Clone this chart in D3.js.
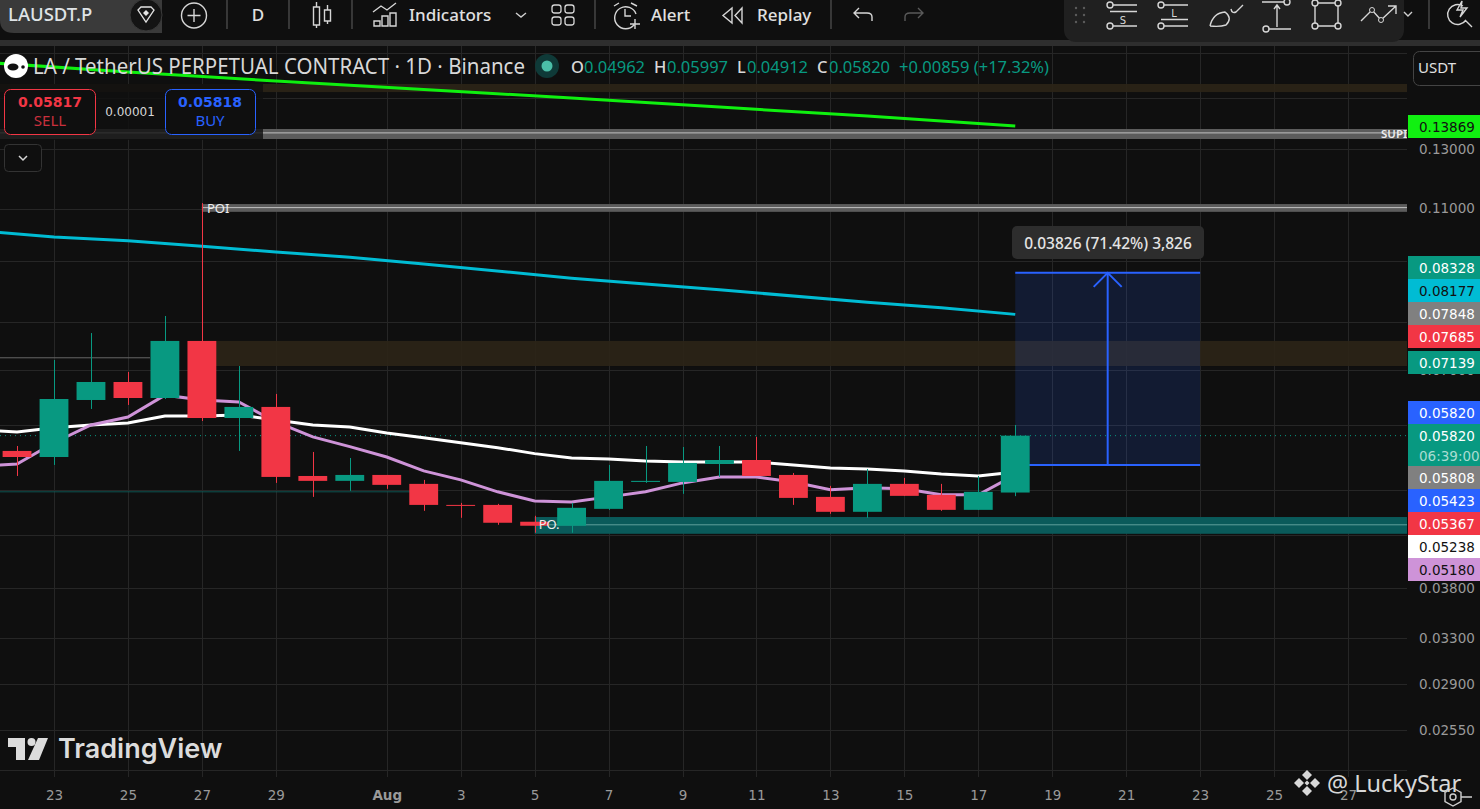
<!DOCTYPE html>
<html>
<head>
<meta charset="utf-8">
<title>LAUSDT.P</title>
<script src="https://cdnjs.cloudflare.com/ajax/libs/d3/7.8.5/d3.min.js"></script>
<style>
  html, body { margin: 0; padding: 0; background: #0f0f0f; overflow: hidden; }
  svg { display: block; }
</style>
</head>
<body>
<script>
// candles, Jul 22 to Aug 18
var candleStart = "2025-07-22";
var opens  = [.05576,.05482,.06432,.06765,.06468,.0759,.06115,.06308,.05198,.05127,.05213,.05084,.04793,.04793,.04572,.04521,.0474,.05112,.05112,.05376,.05436,.05213,.04902,.04701,.05084,.0493,.04727,.04962];
var highs  = [.05654,.07196,.0776,.06958,.0814,.1117,.07075,.06542,.0556,.05467,.05213,.05141,.0482,.04807,.04649,.0482,.05361,.05654,.05638,.05654,.058,.05242,.05056,.05301,.0517,.05084,.05198,.05997];
var lows   = [.05198,.05361,.06272,.06343,.0645,.06064,.05576,.05098,.04902,.04986,.05014,.04714,.04623,.04533,.04433,.04433,.04727,.05098,.04944,.05184,.05198,.04793,.04675,.04623,.04916,.04714,.04727,.04912];
var closes = [.05482,.0645,.06765,.06468,.0759,.06115,.06308,.05184,.05127,.05213,.0507,.04793,.0478,.04559,.04521,.04754,.05127,.05127,.05391,.05436,.05198,.04888,.04701,.05084,.04916,.04727,.04972,.0582];

// moving averages, one value per day from Jul 21
var maStart = "2025-07-21";
var whiteMa  = [.05914,.05881,.05949,.05997,.06031,.0615,.0615,.06167,.06082,.05997,.05963,.05865,.05787,.05706,.05627,.05534,.05467,.05451,.05421,.05406,.05406,.05406,.05361,.05317,.05301,.05272,.05228,.05198,.05257];
var purpleMa = [.05346,.05376,.05706,.05997,.06133,.0652,.06432,.06396,.06047,.058,.05643,.05482,.05272,.05141,.04972,.04846,.04833,.04902,.04972,.05098,.05184,.05184,.05112,.05,.05028,.05014,.0493,.0493,.05213];

// slow averages, read at a few dates
var cyanDates = ["2025-07-21","2025-07-23","2025-07-25","2025-07-27","2025-07-29","2025-07-31","2025-08-02","2025-08-06","2025-08-10","2025-08-14","2025-08-16","2025-08-18"];
var cyanMa    = [.1033,.1016,.1005,.099,.0974,.096,.0942,.0905,.0876,.0846,.0833,.08177];
var limeDates = ["2025-07-21","2025-07-25","2025-07-29","2025-08-02","2025-08-06","2025-08-10","2025-08-14","2025-08-18"];
var limeMa    = [.1659,.1613,.1573,.1536,.15,.1462,.1426,.13869];

// price zones
var bandStarts = ["2025-07-27","2025-07-10"];
var bandHighs  = [.1114,.1375];
var bandLows   = [.109,.1337];
var bandMids   = [.1103,.136];
var tanStarts  = ["2025-07-27","2025-07-10"];
var tanHighs   = [.0759,.156];
var tanLows    = [.07075,.1525];
var tealStart = "2025-08-05", tealHigh = .04633, tealLow = .0442, tealMid = .04533;
var thinGrey = .0724, thinTeal = .04972, lastPrice = .0582;

// long position tool
var toolStart = "2025-08-18", toolEnd = "2025-08-23", toolMid = "2025-08-20T12:00:00";
var toolLow = .0536, toolHigh = .09186;
var toolText = "0.03826 (71.42%) 3,826";

// axes
var gridPrices = [.17,.15,.13,.11,.095,.08,.07,.06,.05,.044,.038,.033,.029,.0255,.0228];
var priceLabels = [.13,.11,.07,.038,.033,.029,.0255];
var dateTicks = ["2025-07-23","2025-07-25","2025-07-27","2025-07-29","2025-08-01","2025-08-03","2025-08-05","2025-08-07","2025-08-09","2025-08-11","2025-08-13","2025-08-15","2025-08-17","2025-08-19","2025-08-21","2025-08-23","2025-08-25","2025-08-27"];
var dateLabels = ["23","25","27","29","Aug","3","5","7","9","11","13","15","17","19","21","23","25","27"];

// labels stacked on the price axis
var tagTexts = ["0.13869","0.08328","0.08177","0.07848","0.07685","0.07139","0.05820","0.05820","0.05808","0.05423","0.05367","0.05238","0.05180"];

var width = 1480;
var height = 809;
var axisX = 1407;
var mono = "'DejaVu Sans', sans-serif";
var sans = "'Noto Sans', sans-serif";
var grey = "#d6d6d6";

var parseDay = function(s) { return new Date(s + (s.length > 10 ? "Z" : "T00:00:00Z")); };

var x = d3.scaleUtc()
  .domain([parseDay("2025-07-23"), parseDay("2025-08-27")])
  .range([54, 1348]);
var y = d3.scaleLog()
  .domain([.13, .0255])
  .range([149, 730]);

var dayOffset = function(start, i) { return d3.utcDay.offset(parseDay(start), i); };
var dayWidth = x(parseDay("2025-07-24")) - x(parseDay("2025-07-23"));
var bodyWidth = dayWidth * 0.78;

var svg = d3.select("body").append("svg")
  .attr("width", width)
  .attr("height", height)
  .style("background", "#0f0f0f");

svg.append("clipPath").attr("id", "pane")
  .append("rect").attr("x", 0).attr("y", 46).attr("width", axisX).attr("height", 731);

var pane = svg.append("g").attr("clip-path", "url(#pane)");

// grid
pane.selectAll(".hgrid").data(gridPrices).enter().append("line")
  .attr("x1", 0).attr("x2", axisX)
  .attr("y1", function(d) { return Math.round(y(d)) + .5; })
  .attr("y2", function(d) { return Math.round(y(d)) + .5; })
  .attr("stroke", "#262626");
pane.selectAll(".vgrid").data(dateTicks).enter().append("line")
  .attr("x1", function(d) { return Math.round(x(parseDay(d))) + .5; })
  .attr("x2", function(d) { return Math.round(x(parseDay(d))) + .5; })
  .attr("y1", 46).attr("y2", 777)
  .attr("stroke", "#262626");

// tan zones
tanStarts.forEach(function(s, i) {
  pane.append("rect")
    .attr("x", x(parseDay(s))).attr("width", axisX - x(parseDay(s)))
    .attr("y", y(tanHighs[i])).attr("height", y(tanLows[i]) - y(tanHighs[i]))
    .attr("fill", "#2b2417").attr("fill-opacity", .95);
});

// grey zones
bandStarts.forEach(function(s, i) {
  pane.append("rect")
    .attr("x", x(parseDay(s))).attr("width", axisX - x(parseDay(s)))
    .attr("y", y(bandHighs[i])).attr("height", y(bandLows[i]) - y(bandHighs[i]))
    .attr("fill", "#5c5c5c");
  pane.append("line")
    .attr("x1", x(parseDay(s))).attr("x2", axisX)
    .attr("y1", y(bandMids[i])).attr("y2", y(bandMids[i]))
    .attr("stroke", "#c0c0c0").attr("stroke-width", 1);
});

// teal zone
pane.append("rect")
  .attr("x", x(parseDay(tealStart))).attr("width", axisX - x(parseDay(tealStart)))
  .attr("y", y(tealHigh)).attr("height", y(tealLow) - y(tealHigh))
  .attr("fill", "#0a5a5a");
pane.append("line")
  .attr("x1", x(parseDay(tealStart))).attr("x2", axisX)
  .attr("y1", y(tealMid)).attr("y2", y(tealMid))
  .attr("stroke", "#5f9f9a");

// thin levels
pane.append("line").attr("x1", 0).attr("x2", 150)
  .attr("y1", y(thinGrey)).attr("y2", y(thinGrey)).attr("stroke", "#666666");
pane.append("line").attr("x1", 0).attr("x2", 410)
  .attr("y1", y(thinTeal)).attr("y2", y(thinTeal)).attr("stroke", "#0d5450");

// position tool
var toolX1 = x(parseDay(toolStart)), toolX2 = x(parseDay(toolEnd)), toolXm = x(parseDay(toolMid));
var toolBlue = "#2962ff";
pane.append("rect")
  .attr("x", toolX1).attr("width", toolX2 - toolX1)
  .attr("y", y(toolHigh)).attr("height", y(toolLow) - y(toolHigh))
  .attr("fill", toolBlue).attr("fill-opacity", .15);
[toolHigh, toolLow].forEach(function(p) {
  pane.append("line").attr("x1", toolX1).attr("x2", toolX2)
    .attr("y1", y(p)).attr("y2", y(p))
    .attr("stroke", toolBlue).attr("stroke-width", 2);
});
pane.append("line").attr("x1", toolXm).attr("x2", toolXm)
  .attr("y1", y(toolHigh)).attr("y2", y(toolLow))
  .attr("stroke", toolBlue).attr("stroke-width", 2);
pane.append("path")
  .attr("d", "M" + (toolXm - 14) + "," + (y(toolHigh) + 14) + "L" + toolXm + "," + y(toolHigh) + "L" + (toolXm + 14) + "," + (y(toolHigh) + 14))
  .attr("fill", "none").attr("stroke", toolBlue).attr("stroke-width", 2);

// last price line
pane.append("line").attr("x1", 0).attr("x2", axisX)
  .attr("y1", y(lastPrice)).attr("y2", y(lastPrice))
  .attr("stroke", "#089981").attr("stroke-dasharray", "1 4");

// moving averages
var dailyLine = function(start, values, color) {
  pane.append("path")
    .datum(values)
    .attr("d", d3.line()
      .x(function(d, i) { return x(dayOffset(start, i)); })
      .y(function(d) { return y(d); }))
    .attr("fill", "none").attr("stroke", color).attr("stroke-width", 3);
};
var datedLine = function(dates, values, color) {
  pane.append("path")
    .datum(values)
    .attr("d", d3.line()
      .x(function(d, i) { return x(parseDay(dates[i])); })
      .y(function(d) { return y(d); }))
    .attr("fill", "none").attr("stroke", color).attr("stroke-width", 3);
};
datedLine(limeDates, limeMa, "#0ff00f");
datedLine(cyanDates, cyanMa, "#00bcd4");
dailyLine(maStart, whiteMa, "#ffffff");
dailyLine(maStart, purpleMa, "#ce93d8");

// candles
var upColor = "#089981", downColor = "#f23645";
var candles = pane.selectAll(".candle").data(closes).enter().append("g");
candles.append("line")
  .attr("x1", function(d, i) { return Math.round(x(dayOffset(candleStart, i))) + .5; })
  .attr("x2", function(d, i) { return Math.round(x(dayOffset(candleStart, i))) + .5; })
  .attr("y1", function(d, i) { return y(highs[i]); })
  .attr("y2", function(d, i) { return y(lows[i]); })
  .attr("stroke", function(d, i) { return d >= opens[i] ? upColor : downColor; });
candles.append("rect")
  .attr("x", function(d, i) { return x(dayOffset(candleStart, i)) - bodyWidth / 2; })
  .attr("width", bodyWidth)
  .attr("y", function(d, i) { return y(Math.max(d, opens[i])); })
  .attr("height", function(d, i) { return Math.max(1, Math.abs(y(d) - y(opens[i]))); })
  .attr("fill", function(d, i) { return d >= opens[i] ? upColor : downColor; });

// zone names sit above the candles
var zoneText = function(t, px, py, size, weight) {
  pane.append("text").text(t).attr("x", px).attr("y", py)
    .attr("fill", "#eeeeee").attr("font-family", sans).attr("font-size", size).attr("font-weight", weight || 400);
};
zoneText("POI", x(parseDay(bandStarts[0])) + 5, y(bandMids[0]) + 5, 13);
zoneText("PO.", x(parseDay(tealStart)) + 4, y(tealMid) + 4, 13);
zoneText("SUPI", 1381, 138, 11.5, 600);

// dim strip behind the buttons
svg.append("rect").attr("x", 0).attr("y", 84).attr("width", 263).attr("height", 56)
  .attr("fill", "#0f0f0f").attr("fill-opacity", .8);

// measure label
svg.append("rect").attr("x", 1012).attr("y", 226).attr("width", 192).attr("height", 33).attr("rx", 5)
  .attr("fill", "#2d2d2d");
svg.append("text").text(toolText)
  .attr("x", 1108).attr("y", 248.5).attr("text-anchor", "middle")
  .attr("fill", "#e4e4e4").attr("font-family", sans).attr("font-size", 15.5).attr("font-weight", 500);

// price axis
var priceAxis = d3.axisRight(y)
  .tickValues(priceLabels)
  .tickSize(0)
  .tickPadding(12)
  .tickFormat(d3.format(".5f"));
var priceG = svg.append("g").attr("transform", "translate(" + axisX + ",0)").call(priceAxis);
priceG.select(".domain").remove();
priceG.selectAll("text").attr("fill", "#9a9a9a").attr("font-family", mono).attr("font-size", 13.5);

// date axis
var dateAxis = d3.axisBottom(x)
  .tickValues(dateTicks.map(parseDay))
  .tickSize(0)
  .tickPadding(13)
  .tickFormat(function(d, i) { return dateLabels[i]; });
var dateG = svg.append("g").attr("transform", "translate(0,777)").call(dateAxis);
dateG.select(".domain").remove();
dateG.selectAll("text")
  .attr("fill", "#9a9a9a").attr("font-family", mono).attr("font-size", 13.5)
  .attr("font-weight", function(d, i) { return dateLabels[i] == "Aug" ? 700 : 400; });

// stacked price tags
var tagTops = [115,256,279,302,325,351,401,424,466,489,512,535,558];
var tagFills = ["#11f011","#089981","#00bcd4","#808080","#f23645","#089981","#2962ff","#089981","#808080","#2962ff","#f23645","#ffffff","#ce93d8"];
var tagInks = ["#111","#fff","#111","#fff","#fff","#fff","#fff","#fff","#fff","#fff","#fff","#111","#111"];
tagTexts.forEach(function(t, i) {
  svg.append("rect").attr("x", 1408).attr("y", tagTops[i]).attr("width", 72)
    .attr("height", i == 7 ? 42 : 23).attr("fill", tagFills[i]);
  svg.append("text").text(t).attr("x", 1419).attr("y", tagTops[i] + 17)
    .attr("fill", tagInks[i]).attr("font-family", mono).attr("font-size", 13.5);
});
svg.append("text").text("06:39:00").attr("x", 1419).attr("y", 461)
  .attr("fill", "#a9dcd2").attr("font-family", mono).attr("font-size", 13.5);

// small stroke helper for the toolbar icons
var icon = function(d, color, w) {
  return svg.append("path").attr("d", d).attr("fill", "none")
    .attr("stroke", color || grey).attr("stroke-width", w || 1.4);
};
var label = function(t, px, py, size, color, weight, anchor, font) {
  return svg.append("text").text(t).attr("x", px).attr("y", py)
    .attr("font-size", size).attr("fill", color || grey)
    .attr("font-weight", weight || 400)
    .attr("text-anchor", anchor || "start")
    .attr("font-family", font || sans);
};
var ring = function(cx, cy, r, color, w) {
  return svg.append("circle").attr("cx", cx).attr("cy", cy).attr("r", r)
    .attr("fill", "none").attr("stroke", color || grey).attr("stroke-width", w || 1.4);
};

// top bar
svg.append("rect").attr("x", 0).attr("y", 0).attr("width", width).attr("height", 40).attr("fill", "#0f0f0f");
svg.append("rect").attr("x", 0).attr("y", 40).attr("width", width).attr("height", 6).attr("fill", "#2e2e2e");
svg.append("path").attr("d", "M0,0H162V33H14Q0,33 0,20Z").attr("fill", "#3a3a3a");
svg.append("circle").attr("cx", 146).attr("cy", 15).attr("r", 16).attr("fill", "#141414").attr("stroke", "#3a3a3a");
icon("M138,10L141,7H151L154,10L146,22Z", "#e2e2e2", 1.3);
svg.append("path").attr("d", "M146,10L149,13L146,16L143,13Z").attr("fill", "#e2e2e2");
label("LAUSDT.P", 8, 21, 18.5, "#dfe3e6", 500);
ring(194, 15.5, 12.5);
icon("M194,9V22M187.5,15.5H200.5");
[227, 289, 352, 595, 831].forEach(function(sx) {
  svg.append("line").attr("x1", sx).attr("x2", sx).attr("y1", 0).attr("y2", 29).attr("stroke", "#4a4a4a").attr("stroke-width", 1.4);
});
label("D", 258, 21, 17, "#e0e0e0", 500, "middle");
icon("M313.5,7h6v18h-6zM316.5,2v5M316.5,25v3M324.5,10h6v11h-6zM327.5,5v5M327.5,21v3");
icon("M373,12L381,6L387,10L396,3M374,21h6v5h-6zM382,16h6v10h-6zM390,13h6v13h-6z");
label("Indicators", 409, 21, 17, "#e0e0e0", 500);
icon("M516,13L521,17L526,13", "#cfcfcf");
[[552,5],[565,5],[552,17],[565,17]].forEach(function(q) {
  svg.append("rect").attr("x", q[0]).attr("y", q[1]).attr("width", 9).attr("height", 8).attr("rx", 2.5)
    .attr("fill", "none").attr("stroke", grey).attr("stroke-width", 1.3);
});
icon("M634,25A11,11 0 1 1 636,14M625,9V16H631M614,6L619,3M631,3L637,6M630,24H640M635,19V29");
label("Alert", 651, 21, 17, "#e0e0e0", 500);
icon("M732,8L723,15.5L732,23ZM742,8L735,15.5L742,23Z");
label("Replay", 757, 21, 17, "#e0e0e0", 500);
icon("M872,21V17Q872,13 867,13H854M859,8L854,13L859,18");
icon("M905,21V17Q905,13 910,13H923M918,8L923,13L918,18", "#5a5a5a");

// floating drawing bar
svg.append("rect").attr("x", 1064).attr("y", -12).attr("width", 340).attr("height", 54).attr("rx", 12).attr("fill", "#202020");
[1076, 1084].forEach(function(dx) {
  [8, 15, 22].forEach(function(dy) {
    svg.append("circle").attr("cx", dx).attr("cy", dy).attr("r", 1.2).attr("fill", "#5c5c5c");
  });
});
ring(1110, 5, 3); ring(1110, 26, 3);
icon("M1113,5H1137M1110,11.5H1137M1113,26H1137");
label("S", 1123, 24, 10, grey, 400, "middle", mono);
ring(1161, 5, 3); ring(1161, 26, 3);
icon("M1164,5H1188M1161,19.5H1188M1164,26H1188");
label("L", 1174, 17, 10, grey, 400, "middle", mono);
icon("M1210,26Q1213,13 1225,12Q1233,18 1226,25Q1220,27 1210,26M1231,9Q1232,14 1236,12L1243,5");
icon("M1262,2H1284M1277,27V6M1274,9L1277,5L1280,9M1269,29H1291");
ring(1287, 2, 3); ring(1266, 29, 3);
icon("M1315,3H1338V26H1315Z");
[[1315,3],[1338,3],[1315,26],[1338,26]].forEach(function(q) {
  svg.append("circle").attr("cx", q[0]).attr("cy", q[1]).attr("r", 3).attr("fill", "#202020").attr("stroke", grey).attr("stroke-width", 1.4);
});
icon("M1361,21L1372,10L1381,20L1396,6M1388,6H1396V14");
svg.append("circle").attr("cx", 1372).attr("cy", 10).attr("r", 2.5).attr("fill", "#202020").attr("stroke", grey);
svg.append("circle").attr("cx", 1381).attr("cy", 20).attr("r", 2.5).attr("fill", "#202020").attr("stroke", grey);
icon("M1404,12L1408,16L1412,12", "#cfcfcf");
svg.append("line").attr("x1", 1429).attr("x2", 1429).attr("y1", 0).attr("y2", 29).attr("stroke", "#4a4a4a").attr("stroke-width", 1.4);
icon("M1463,6A10,10 0 1 0 1466,20M1465,20L1472,27M1462,1L1457,10H1463L1460,17L1467,8H1461Z");

// legend line
svg.append("circle").attr("cx", 16).attr("cy", 66).attr("r", 12).attr("fill", "#ffffff");
svg.append("ellipse").attr("cx", 13).attr("cy", 67).attr("rx", 5.5).attr("ry", 3.5).attr("fill", "#111");
svg.append("circle").attr("cx", 23).attr("cy", 67).attr("r", 1.8).attr("fill", "#111");
label("LA / TetherUS PERPETUAL CONTRACT · 1D · Binance", 33, 74, 22, "#d8d8d8")
  .attr("textLength", 492).attr("lengthAdjust", "spacingAndGlyphs");
svg.append("circle").attr("cx", 547).attr("cy", 66).attr("r", 12).attr("fill", "#0f3a38");
svg.append("circle").attr("cx", 547).attr("cy", 66).attr("r", 5.5).attr("fill", "#4bbfa8");
var teal = "#089981";
label("O", 571, 73, 16.5, "#d8d8d8", 500);
label("0.04962", 584, 73, 16.5, teal);
label("H", 654, 73, 16.5, "#d8d8d8", 500);
label("0.05997", 667, 73, 16.5, teal);
label("L", 737, 73, 16.5, "#d8d8d8", 500);
label("0.04912", 747, 73, 16.5, teal);
label("C", 817, 73, 16.5, "#d8d8d8", 500);
label("0.05820", 829, 73, 16.5, teal);
label("+0.00859 (+17.32%)", 899, 73, 16.5, teal);

// sell and buy buttons
svg.append("rect").attr("x", 4.5).attr("y", 89.5).attr("width", 91).attr("height", 45).attr("rx", 6)
  .attr("fill", "#0f0f0f").attr("stroke", "#f23645");
label("0.05817", 50, 107, 14, "#f23645", 700, "middle", mono);
label("SELL", 50, 126, 15, "#c9303d", 400, "middle");
label("0.00001", 130, 116, 12, "#d6d6d6", 400, "middle", mono);
svg.append("rect").attr("x", 165.5).attr("y", 89.5).attr("width", 90).attr("height", 45).attr("rx", 6)
  .attr("fill", "#0f0f0f").attr("stroke", "#2962ff");
label("0.05818", 210, 107, 14, "#2962ff", 700, "middle", mono);
label("BUY", 210, 126, 15, "#2962ff", 400, "middle");
svg.append("rect").attr("x", 4.5).attr("y", 144.5).attr("width", 37).attr("height", 27).attr("rx", 4)
  .attr("fill", "#0f0f0f").attr("stroke", "#333333");
icon("M19,156L23,160L27,156", "#d6d6d6", 1.5);

// currency button
svg.append("rect").attr("x", 1413.5).attr("y", 51.5).attr("width", 80).attr("height", 34).attr("rx", 6)
  .attr("fill", "#0f0f0f").attr("stroke", "#444444");
label("USDT", 1418, 73, 15, "#e0e0e0");

// TradingView logo
svg.append("path").attr("d", "M8,738H25V760H16V747H8Z").attr("fill", "#dcdcdc");
svg.append("circle").attr("cx", 31.5).attr("cy", 742).attr("r", 4).attr("fill", "#dcdcdc");
svg.append("path").attr("d", "M38,738H48L39,760H28Z").attr("fill", "#dcdcdc");
label("TradingView", 58, 758, 27, "#dcdcdc", 600, "start", "Inter, sans-serif");

// watermark and settings icon
svg.append("g").attr("transform", "translate(1307,783)")
  .selectAll("path").data([
    "M0,-13L5,-8L0,-3L-5,-8Z", "M0,3L5,8L0,13L-5,8Z", "M-8,-5L-3,0L-8,5L-13,0Z", "M8,-5L13,0L8,5L3,0Z", "M0,-2.5L2.5,0L0,2.5L-2.5,0Z"
  ]).enter().append("path").attr("d", function(d) { return d; }).attr("fill", "#d8d8d8");
label("@ LuckyStar", 1327, 792, 23.5, "#d8d8d8");
icon("M1453,788L1461,792.5V801.5L1453,806L1445,801.5V792.5ZM1461,797H1472", "#cfcfcf");
ring(1453, 797, 3, "#cfcfcf");
</script>
</body>
</html>
